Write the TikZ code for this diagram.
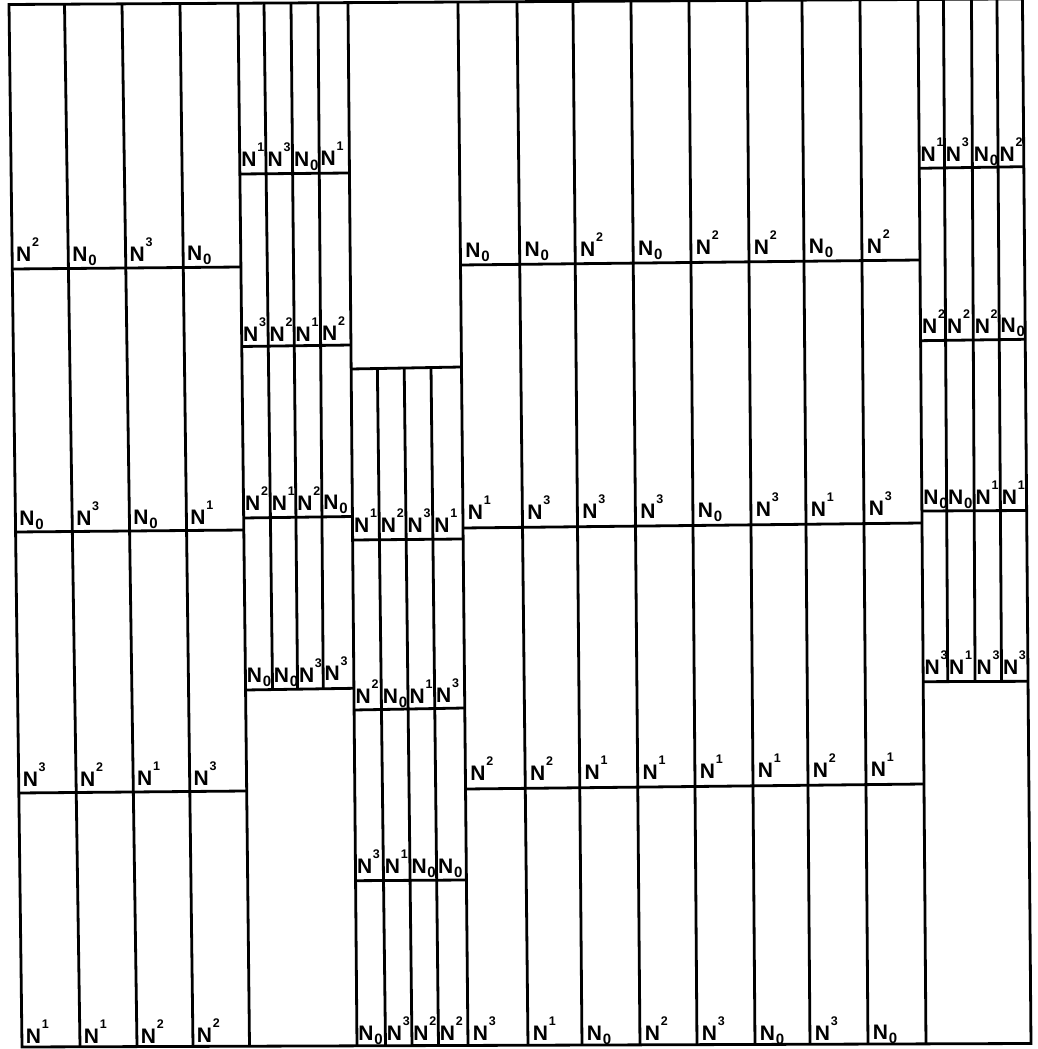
\documentclass[tikz,border=0pt]{standalone}
\usepackage{fontspec}
\setmainfont{Liberation Sans}[BoldFont={Liberation Sans Bold}]
\usetikzlibrary{calc}
\newcommand{\at}[2]{($(#1t)!{(#2-4)/1042}!(#1b)$)}
\newcommand{\Ns}[1]{N\kern0.8pt\raisebox{15pt}{\fontsize{12.5}{12.5}\selectfont\bfseries #1}}
\newcommand{\Nz}{N\kern0.8pt\raisebox{-4pt}{\fontsize{15}{15}\selectfont\bfseries 0}}
\newcommand{\lab}[5]{\path \at{#2}{#3} node[lab,xshift=#4pt] (#1) {#5};}
\begin{document}
\begin{tikzpicture}[x=1pt,y=-1pt,
  ln/.style={line width=2.8pt,line join=miter},
  lab/.style={anchor=base west,inner sep=0pt,outer sep=0pt,font=\fontsize{21}{21}\selectfont\bfseries}]
\useasboundingbox[fill=white] (0,0) rectangle (1037,1049);
% reference lines: top point at y=4, bottom point at y=1046
\foreach \n/\xt/\xb in {L0/9/22, A1/64.5/80, A2/122/137, A3/180/193,
  B0/238/249.5, B1/264/277, B2/291/301, B3/318/326,
  C0/348/357, C1/373/385.5, C2/400/412, C3/427/438.5,
  D0/458/468, D1/517/528, D2/573/582, D3/631/640, D4/689/697, D5/747/755, D6/802/810, D7/860/868,
  E0/918/926, E1/943.5/950, E2/971.5/977, E3/997/1004, R/1022.5/1031}
  {\coordinate (\n t) at (\xt,4); \coordinate (\n b) at (\xb,1046);}
% outer border
\draw[ln] \at{L0}{4.5} -- \at{R}{-1.1} -- \at{R}{1043.5} -- \at{L0}{1047} -- cycle;
% full-height verticals
\draw[ln] \at{A1}{4.1} -- \at{A1}{1046.8};
\draw[ln] \at{A2}{3.8} -- \at{A2}{1046.6};
\draw[ln] \at{A3}{3.5} -- \at{A3}{1046.4};
\draw[ln] \at{B0}{3.2} -- \at{B0}{1046.2};
\draw[ln] \at{C0}{2.6} -- \at{C0}{1045.8};
\draw[ln] \at{D0}{2.0} -- \at{D0}{1045.4};
\draw[ln] \at{D1}{1.7} -- \at{D1}{1045.2};
\draw[ln] \at{D2}{1.3} -- \at{D2}{1045.0};
\draw[ln] \at{D3}{1.0} -- \at{D3}{1044.8};
\draw[ln] \at{D4}{0.7} -- \at{D4}{1044.6};
\draw[ln] \at{D5}{0.4} -- \at{D5}{1044.4};
\draw[ln] \at{D6}{0.1} -- \at{D6}{1044.2};
\draw[ln] \at{D7}{-0.2} -- \at{D7}{1044.0};
\draw[ln] \at{E0}{-0.5} -- \at{E0}{1043.8};
% partial verticals
\draw[ln] \at{B1}{3.0} -- \at{B1}{689.5};
\draw[ln] \at{B2}{2.9} -- \at{B2}{689.0};
\draw[ln] \at{B3}{2.7} -- \at{B3}{688.7};
\draw[ln] \at{C1}{368.7} -- \at{C1}{1045.7};
\draw[ln] \at{C2}{368.3} -- \at{C2}{1045.6};
\draw[ln] \at{C3}{368.0} -- \at{C3}{1045.5};
\draw[ln] \at{E1}{-0.7} -- \at{E1}{681.6};
\draw[ln] \at{E2}{-0.8} -- \at{E2}{681.5};
\draw[ln] \at{E3}{-1.0} -- \at{E3}{681.4};
% horizontals
\draw[ln] \at{L0}{269} -- \at{B0}{267};
\draw[ln] \at{L0}{532} -- \at{B0}{530};
\draw[ln] \at{L0}{793} -- \at{B0}{791};
\draw[ln] \at{B0}{174} -- \at{C0}{173};
\draw[ln] \at{B0}{346.5} -- \at{C0}{345};
\draw[ln] \at{B0}{518} -- \at{C0}{516.5};
\draw[ln] \at{B0}{690} -- \at{C0}{688.3};
\draw[ln] \at{C0}{369} -- \at{D0}{367};
\draw[ln] \at{C0}{540} -- \at{D0}{539};
\draw[ln] \at{C0}{710} -- \at{D0}{708};
\draw[ln] \at{C0}{880.7} -- \at{D0}{880};
\draw[ln] \at{D0}{265} -- \at{E0}{260};
\draw[ln] \at{D0}{528} -- \at{E0}{523};
\draw[ln] \at{D0}{789} -- \at{E0}{784};
\draw[ln] \at{E0}{168.3} -- \at{R}{166.7};
\draw[ln] \at{E0}{340.7} -- \at{R}{339.3};
\draw[ln] \at{E0}{511} -- \at{R}{510.5};
\draw[ln] \at{E0}{681.7} -- \at{R}{681.3};
% group A labels
\lab{a11}{L0}{262}{4}{\Ns{2}} \lab{a12}{A1}{262}{4}{\Nz} \lab{a13}{A2}{262}{4}{\Ns{3}} \lab{a14}{A3}{261}{4}{\Nz}
\lab{a21}{L0}{525}{4}{\Nz} \lab{a22}{A1}{525}{4}{\Ns{3}} \lab{a23}{A2}{524}{4}{\Nz} \lab{a24}{A3}{524}{4}{\Ns{1}}
\lab{a31}{L0}{786}{4}{\Ns{3}} \lab{a32}{A1}{786}{4}{\Ns{2}} \lab{a33}{A2}{785}{4}{\Ns{1}} \lab{a34}{A3}{785}{4}{\Ns{3}}
\lab{a41}{L0}{1043}{4}{\Ns{1}} \lab{a42}{A1}{1043}{4}{\Ns{1}} \lab{a43}{A2}{1043}{4}{\Ns{2}} \lab{a44}{A3}{1042}{4}{\Ns{2}}
% group B labels
\lab{b11}{B0}{167}{1.5}{\Ns{1}} \lab{b12}{B1}{167}{1.5}{\Ns{3}} \lab{b13}{B2}{167}{1.5}{\Nz} \lab{b14}{B3}{166}{1.5}{\Ns{1}}
\lab{b21}{B0}{342}{1.5}{\Ns{3}} \lab{b22}{B1}{342}{1.5}{\Ns{2}} \lab{b23}{B2}{342}{1.5}{\Ns{1}} \lab{b24}{B3}{341}{1.5}{\Ns{2}}
\lab{b31}{B0}{511}{1.5}{\Ns{2}} \lab{b32}{B1}{511}{1.5}{\Ns{1}} \lab{b33}{B2}{511}{1.5}{\Ns{2}} \lab{b34}{B3}{510}{1.5}{\Nz}
\lab{b41}{B0}{682}{1.5}{\Nz} \lab{b42}{B1}{682}{1.5}{\Nz} \lab{b43}{B2}{682}{1.5}{\Ns{3}} \lab{b44}{B3}{681}{1.5}{\Ns{3}}
% group C labels
\lab{c11}{C0}{532}{1.5}{\Ns{1}} \lab{c12}{C1}{532}{1.5}{\Ns{2}} \lab{c13}{C2}{532}{1.5}{\Ns{3}} \lab{c14}{C3}{532}{1.5}{\Ns{1}}
\lab{c21}{C0}{703}{1.5}{\Ns{2}} \lab{c22}{C1}{703}{1.5}{\Nz} \lab{c23}{C2}{703}{1.5}{\Ns{1}} \lab{c24}{C3}{702}{1.5}{\Ns{3}}
\lab{c31}{C0}{873}{1.5}{\Ns{3}} \lab{c32}{C1}{873}{1.5}{\Ns{1}} \lab{c33}{C2}{873}{1.5}{\Nz} \lab{c34}{C3}{873}{1.5}{\Nz}
\lab{c41}{C0}{1040}{1.5}{\Nz} \lab{c42}{C1}{1040}{1.5}{\Ns{3}} \lab{c43}{C2}{1040}{1.5}{\Ns{2}} \lab{c44}{C3}{1040}{1.5}{\Ns{2}}
% group D labels
\lab{d11}{D0}{257.5}{5}{\Nz} \lab{d12}{D1}{256.9}{5}{\Nz} \lab{d13}{D2}{256.3}{5}{\Ns{2}} \lab{d14}{D3}{255.6}{5}{\Nz}
\lab{d15}{D4}{255}{5}{\Ns{2}} \lab{d16}{D5}{254.4}{5}{\Ns{2}} \lab{d17}{D6}{253.8}{5}{\Nz} \lab{d18}{D7}{253.1}{5}{\Ns{2}}
\lab{d21}{D0}{520}{5}{\Ns{1}} \lab{d22}{D1}{519.4}{5}{\Ns{3}} \lab{d23}{D2}{518.8}{5}{\Ns{3}} \lab{d24}{D3}{518.1}{5}{\Ns{3}}
\lab{d25}{D4}{517.5}{5}{\Nz} \lab{d26}{D5}{516.9}{5}{\Ns{3}} \lab{d27}{D6}{516.3}{5}{\Ns{1}} \lab{d28}{D7}{515.6}{5}{\Ns{3}}
\lab{d31}{D0}{781}{5}{\Ns{2}} \lab{d32}{D1}{780.4}{5}{\Ns{2}} \lab{d33}{D2}{779.8}{5}{\Ns{1}} \lab{d34}{D3}{779.1}{5}{\Ns{1}}
\lab{d35}{D4}{778.5}{5}{\Ns{1}} \lab{d36}{D5}{777.9}{5}{\Ns{1}} \lab{d37}{D6}{777.3}{5}{\Ns{2}} \lab{d38}{D7}{776.6}{5}{\Ns{1}}
\lab{d41}{D0}{1040}{5}{\Ns{3}} \lab{d42}{D1}{1040}{5}{\Ns{1}} \lab{d43}{D2}{1040}{5}{\Nz} \lab{d44}{D3}{1040}{5}{\Ns{2}}
\lab{d45}{D4}{1040}{5}{\Ns{3}} \lab{d46}{D5}{1040}{5}{\Nz} \lab{d47}{D6}{1040}{5}{\Ns{3}} \lab{d48}{D7}{1039}{5}{\Nz}
% group E labels
\lab{e11}{E0}{162}{1.5}{\Ns{1}} \lab{e12}{E1}{162}{1.5}{\Ns{3}} \lab{e13}{E2}{162}{1.5}{\Nz} \lab{e14}{E3}{161.5}{1.5}{\Ns{2}}
\lab{e21}{E0}{333.5}{1.5}{\Ns{2}} \lab{e22}{E1}{333.5}{1.5}{\Ns{2}} \lab{e23}{E2}{333.5}{1.5}{\Ns{2}} \lab{e24}{E3}{333}{1.5}{\Nz}
\lab{e31}{E0}{504}{1.5}{\Nz} \lab{e32}{E1}{504}{1.5}{\Nz} \lab{e33}{E2}{504}{1.5}{\Ns{1}} \lab{e34}{E3}{504}{1.5}{\Ns{1}}
\lab{e41}{E0}{674}{1.5}{\Ns{3}} \lab{e42}{E1}{674}{1.5}{\Ns{1}} \lab{e43}{E2}{674}{1.5}{\Ns{3}} \lab{e44}{E3}{674}{1.5}{\Ns{3}}
\end{tikzpicture}
\end{document}
